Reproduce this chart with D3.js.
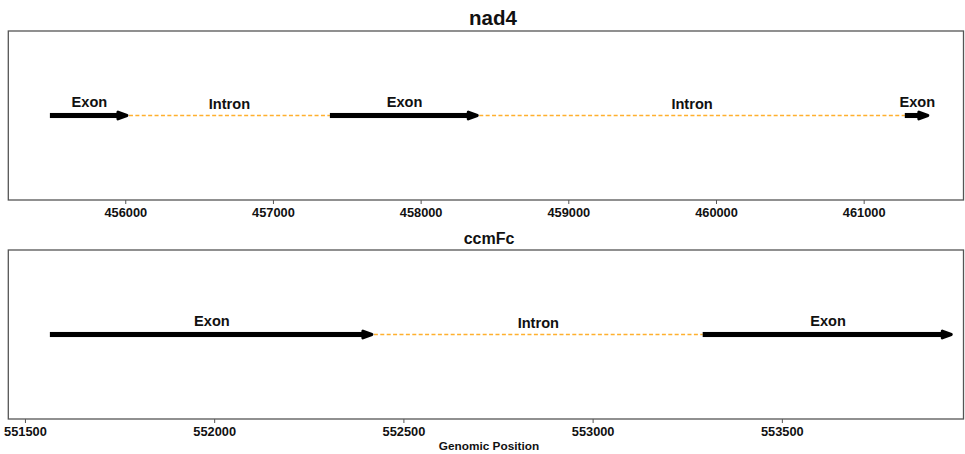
<!DOCTYPE html>
<html>
<head>
<meta charset="utf-8">
<script src="https://cdn.jsdelivr.net/npm/d3@7"></script>
<style>
  body { margin: 0; background: #fff; }
  text { font-family: "Liberation Sans", Arial, sans-serif; font-weight: bold; }
</style>
</head>
<body>
<svg id="chart" width="965" height="454"></svg>
<script>
// Gene structure data (genomic coordinates)
const genes = ["nad4", "ccmFc"];
const nad4Exons = [[455490, 456025], [457386, 458397], [461279, 461448]];
const nad4Introns = [[456025, 457386], [458397, 461279]];
const ccmFcExons = [[551566, 552422], [553291, 553953]];
const ccmFcIntrons = [[552422, 553291]];
const nad4Domain = [455208, 461676];
const ccmFcDomain = [551456, 553980];
const nad4Ticks = [456000, 457000, 458000, 459000, 460000, 461000];
const ccmFcTicks = [551500, 552000, 552500, 553000, 553500];
const xLabel = "Genomic Position";

// Layout of the two panels
let margin = { left: 8.3, right: 1.5 },
    width = 965 - margin.left - margin.right;

let panels = [
  { name: genes[0], exons: nad4Exons, introns: nad4Introns, domain: nad4Domain,
    ticks: nad4Ticks, top: 31, bottom: 200, titleX: 493, titleY: 25, titleSize: 20.5 },
  { name: genes[1], exons: ccmFcExons, introns: ccmFcIntrons, domain: ccmFcDomain,
    ticks: ccmFcTicks, top: 250, bottom: 419, titleX: 489, titleY: 243.5, titleSize: 16 }
];

let svg = d3.select("#chart");

panels.forEach(function(p) {
  let x = d3.scaleLinear().domain(p.domain).range([margin.left, margin.left + width]);
  let y = d3.scaleLinear().domain([-1, 1]).range([p.bottom, p.top]);
  let g = svg.append("g");

  // introns: dashed orange line
  g.selectAll(".intron")
    .data(p.introns)
    .enter()
    .append("line")
    .attr("x1", d => x(d[0]))
    .attr("x2", d => x(d[1]))
    .attr("y1", y(0))
    .attr("y2", y(0))
    .attr("stroke", "#ffb02e")
    .attr("stroke-width", 1.3)
    .attr("stroke-dasharray", "4,2.4");

  // exons: thick black arrows with a rounded head
  let headLen = 9, headHalf = 3.4, shaftHalf = 2.4;
  g.selectAll(".exon")
    .data(p.exons)
    .enter()
    .append("path")
    .attr("d", function(d) {
      let x0 = x(d[0]), x1 = x(d[1]) - 2, yc = y(0);
      let xs = x1 - headLen;
      return "M" + x0 + "," + (yc - shaftHalf) +
             "L" + xs + "," + (yc - shaftHalf) +
             "L" + xs + "," + (yc - headHalf) +
             "L" + x1 + "," + yc +
             "L" + xs + "," + (yc + headHalf) +
             "L" + xs + "," + (yc + shaftHalf) +
             "L" + x0 + "," + (yc + shaftHalf) + "Z";
    })
    .attr("fill", "black")
    .attr("stroke", "black")
    .attr("stroke-width", 0.1);

  g.selectAll(".exonHead")
    .data(p.exons)
    .enter()
    .append("path")
    .attr("d", function(d) {
      let x1 = x(d[1]) - 2, yc = y(0), xs = x1 - headLen;
      return "M" + xs + "," + (yc - headHalf) + "L" + x1 + "," + yc +
             "L" + xs + "," + (yc + headHalf) + "Z";
    })
    .attr("fill", "black")
    .attr("stroke", "black")
    .attr("stroke-width", 3)
    .attr("stroke-linejoin", "round");

  // labels
  g.selectAll(".exonLabel")
    .data(p.exons)
    .enter()
    .append("text")
    .attr("x", d => (x(d[0]) + x(d[1])) / 2)
    .attr("y", y(0) - 9)
    .attr("text-anchor", "middle")
    .style("font-size", "14.6px")
    .attr("fill", "#111")
    .text("Exon");

  g.selectAll(".intronLabel")
    .data(p.introns)
    .enter()
    .append("text")
    .attr("x", d => (x(d[0]) + x(d[1])) / 2)
    .attr("y", y(0) - 6.5)
    .attr("text-anchor", "middle")
    .style("font-size", "14.6px")
    .attr("fill", "#111")
    .text("Intron");

  // axis
  let axis = g.append("g")
    .attr("transform", "translate(0," + p.bottom + ")")
    .call(d3.axisBottom(x).tickValues(p.ticks).tickFormat(d3.format("d")).tickSize(4).tickSizeOuter(0));
  axis.select(".domain").remove();
  axis.selectAll(".tick line").attr("stroke", "#555");
  axis.selectAll(".tick text")
    .attr("y", 7.5)
    .attr("dy", "0.71em")
    .style("font-size", "12.8px")
    .style("font-family", "'Liberation Sans', Arial, sans-serif")
    .style("font-weight", "bold")
    .attr("fill", "#111");

  // frame
  g.append("rect")
    .attr("x", margin.left)
    .attr("y", p.top)
    .attr("width", width)
    .attr("height", p.bottom - p.top)
    .attr("fill", "none")
    .attr("stroke", "#555")
    .attr("stroke-width", 1.3);

  // title
  svg.append("text")
    .attr("x", p.titleX)
    .attr("y", p.titleY)
    .attr("text-anchor", "middle")
    .style("font-size", p.titleSize + "px")
    .attr("fill", "#111")
    .text(p.name);
});

// x axis label
svg.append("text")
  .attr("x", 489)
  .attr("y", 450)
  .attr("text-anchor", "middle")
  .style("font-size", "11.8px")
  .attr("fill", "#111")
  .text(xLabel);
</script>
</body>
</html>
